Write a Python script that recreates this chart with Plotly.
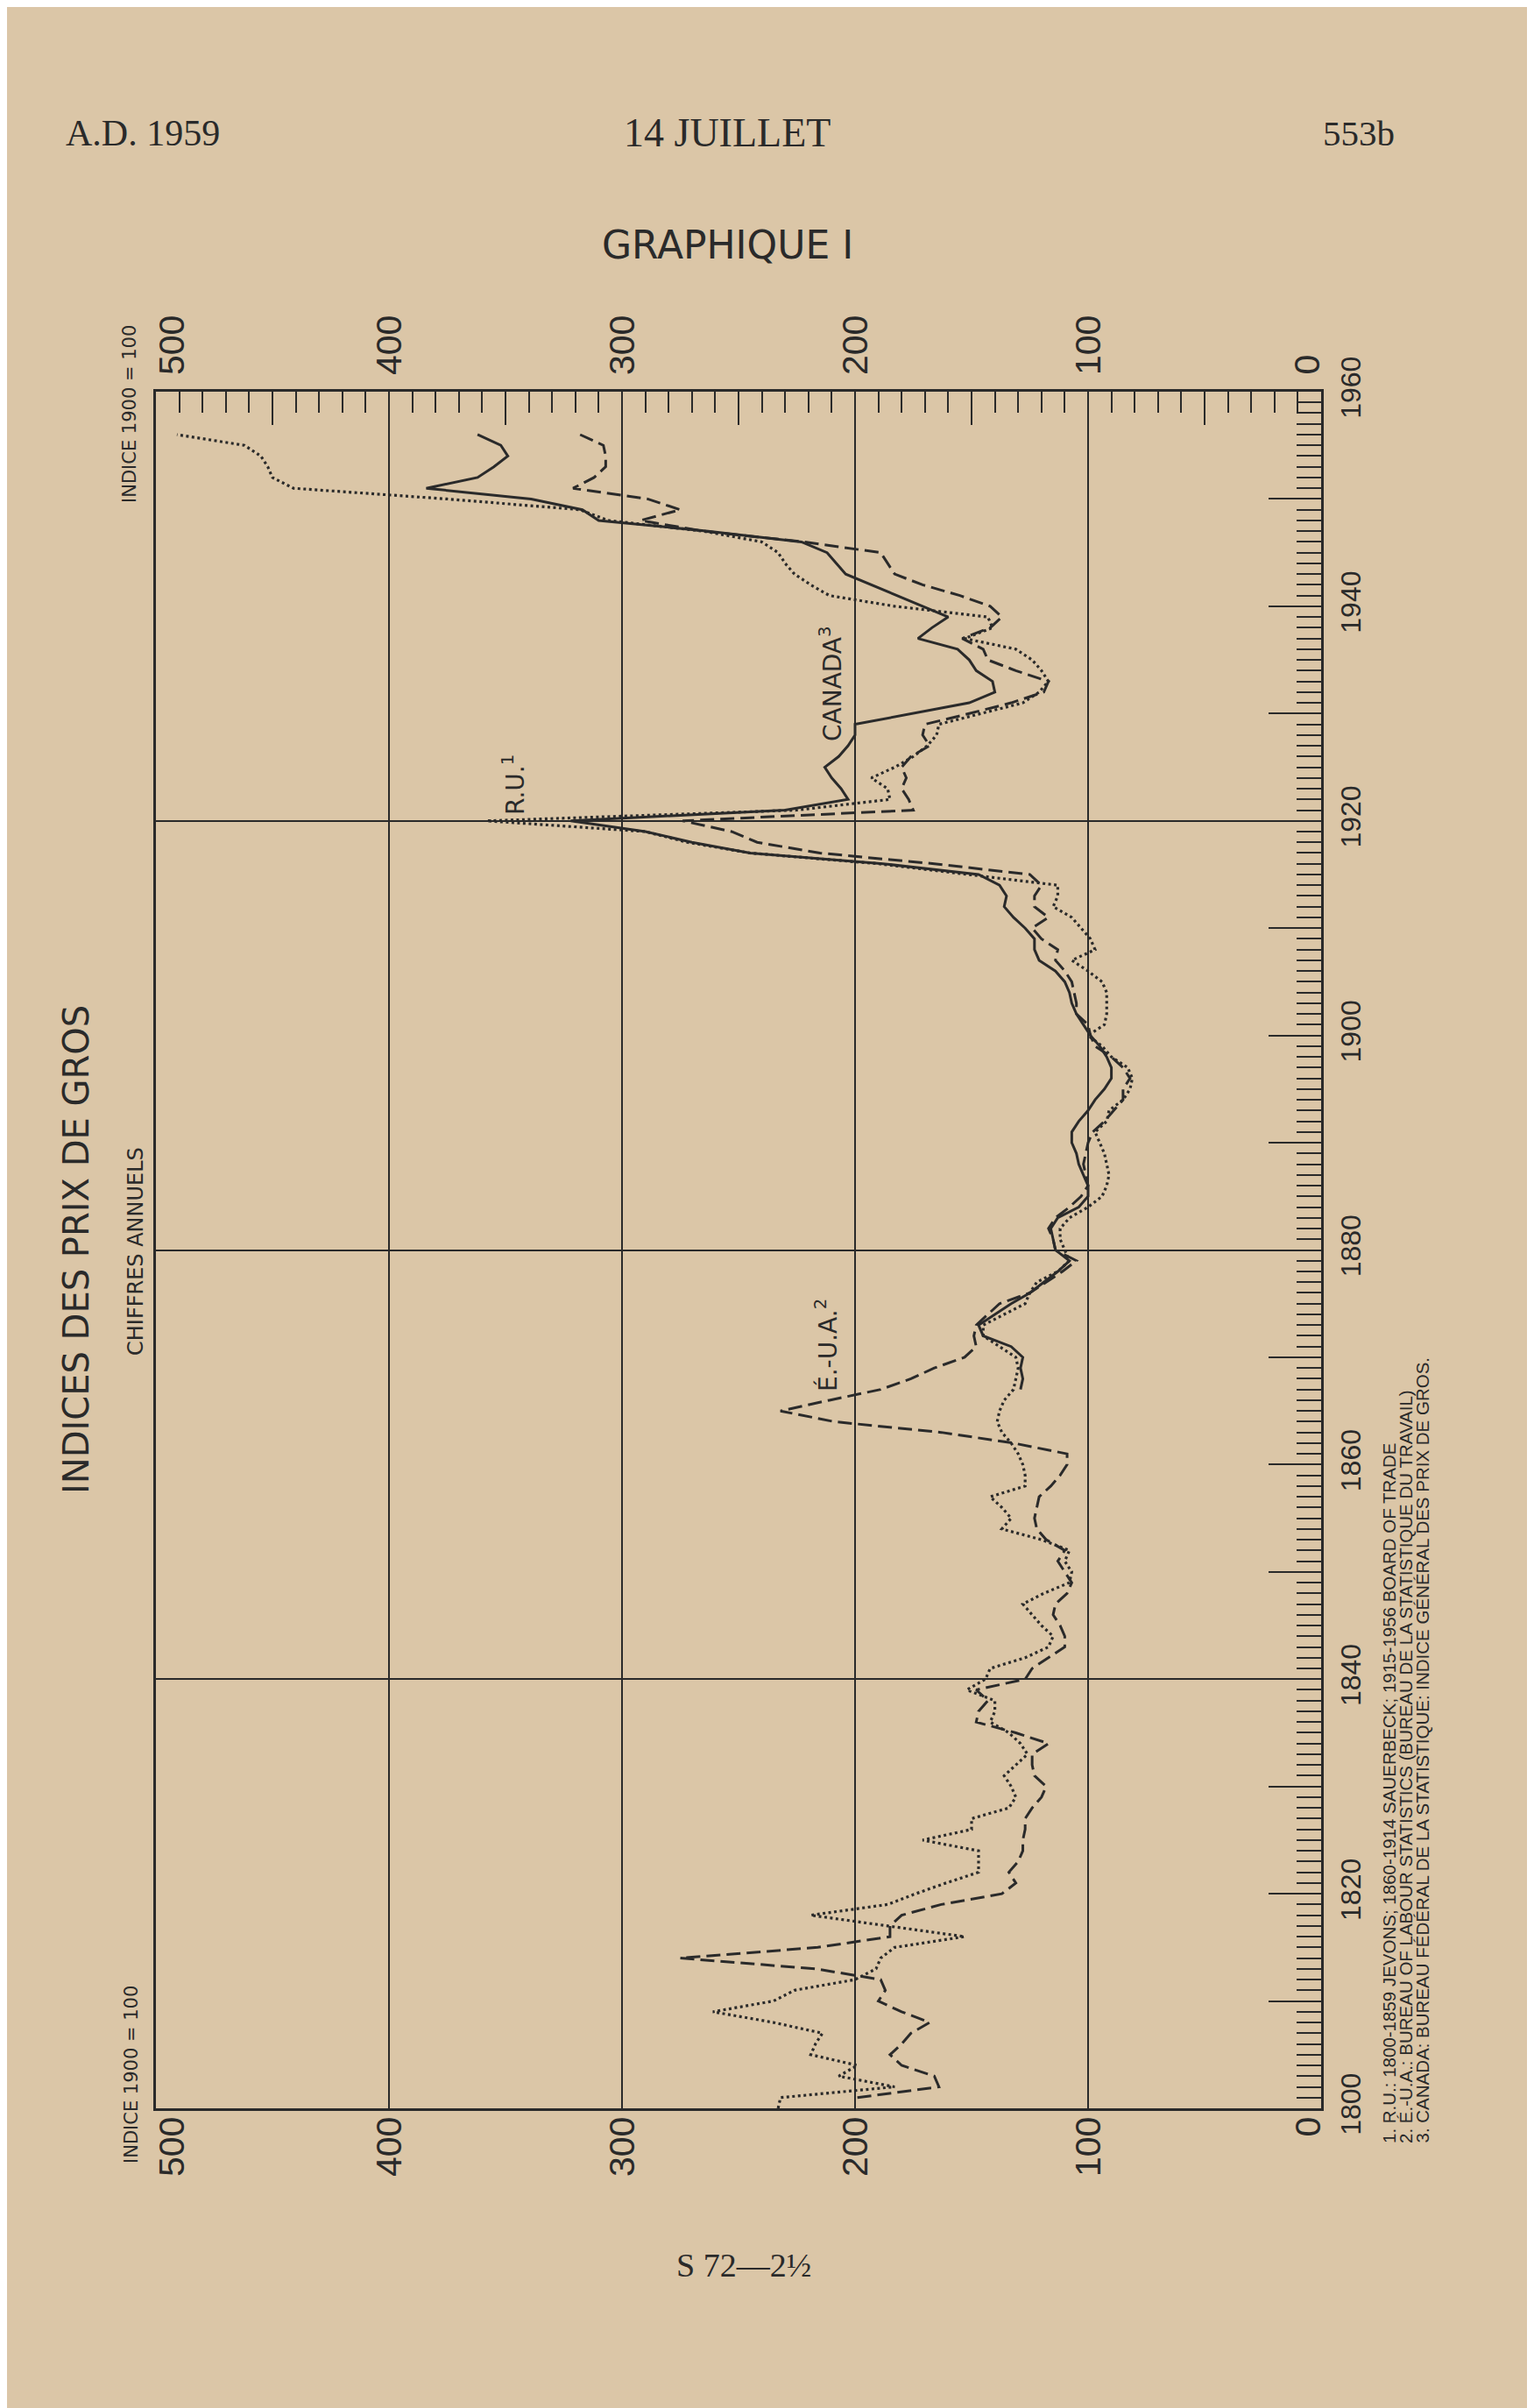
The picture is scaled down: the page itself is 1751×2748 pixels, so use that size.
import plotly.graph_objects as go

# ---------------- data (index 1900 = 100) ----------------
years_ru = list(range(1800, 1957))
ru = [233, 232, 183, 207, 199, 219, 217, 214, 235, 261,
      235, 226, 200, 191, 189, 183, 153, 186, 219, 186,
      174, 161, 147, 147, 147, 171, 150, 150, 134, 131,
      133, 136, 131, 126, 129, 134, 142, 140, 140, 152,
      144, 142, 127, 117, 115, 120, 124, 128, 119, 108,
      107, 110, 108, 120, 137, 133, 137, 142, 127, 127,
      128, 130, 133, 137, 139, 138, 136, 132, 131, 130,
      131, 138, 145, 145, 136, 127, 125, 122, 113, 108,
      110, 112, 112, 108, 100, 94, 92, 91, 92, 93,
      95, 97, 92, 91, 85, 82, 81, 83, 90, 94,
      100, 93, 92, 92, 92, 94, 100, 107, 97, 99,
      103, 107, 115, 113, 113, 152, 190, 245, 272, 290,
      358, 225, 185, 186, 193, 183, 175, 169, 165, 164,
      146, 128, 121, 117, 120, 124, 131, 153, 141, 143,
      183, 211, 219, 226, 230, 233, 240, 265, 306, 318,
      375, 441, 450, 452, 455, 462, 491]

years_eua = list(range(1801, 1957))
eua = [199, 164, 166, 180, 185, 180, 176, 168, 180,
       190, 187, 189, 217, 275, 216, 185, 185, 180, 163,
       137, 131, 134, 130, 128, 128, 127, 127, 124, 120,
       118, 123, 124, 124, 117, 131, 148, 147, 143, 148,
       127, 124, 117, 110, 110, 112, 115, 114, 109, 107,
       110, 113, 110, 118, 122, 123, 122, 121, 116, 112,
       109, 109, 132, 163, 209, 232, 211, 189, 176, 166,
       153, 148, 149, 148, 143, 138, 125, 118, 111, 105,
       114, 115, 117, 114, 108, 103, 100, 101, 102, 101,
       100, 98, 93, 89, 85, 85, 82, 85, 90, 97,
       99, 100, 105, 105, 106, 107, 110, 114, 113, 120,
       124, 117, 123, 123, 120, 125, 166, 215, 242, 253,
       274, 175, 177, 180, 178, 180, 176, 168, 171, 170,
       151, 133, 119, 117, 131, 143, 145, 154, 142, 137,
       142, 155, 171, 183, 186, 189, 222, 265, 292, 275,
       289, 321, 312, 307, 307, 308, 318]

years_can = list(range(1867, 1957))
canada = [129, 128, 129, 128, 133, 145, 147, 140, 133, 125, 119, 113, 108,
          114, 115, 116, 113, 104, 100, 100, 102, 104, 105,
          107, 107, 104, 100, 97, 93, 90, 90, 92, 95,
          99, 102, 105, 107, 108, 110, 114, 121, 123, 123,
          127, 132, 136, 135, 138, 147, 188, 245, 270, 290,
          322, 230, 203, 206, 210, 213, 207, 203, 200, 200,
          175, 151, 140, 141, 148, 151, 156, 173, 167, 160,
          171, 182, 193, 204, 208, 212, 223, 263, 310, 317,
          339, 384, 362, 355, 349, 352, 362]

value_ticks = [0, 100, 200, 300, 400, 500]
value_labels = ["0", "100", "200", "300", "400", "500"]
label_shift = [-16, 0, 0, 0, 0, 18]          # end labels are set inward
year_ticks = list(range(1800, 1961, 20))
year_labels = [str(y) for y in year_ticks]
odd_decades = list(range(1810, 1960, 20))
grid_years = [1840, 1880, 1920]
half_ticks = [50, 150, 250, 350, 450]

# ---------------- styling ----------------
W, H = 1751, 2748
L, R, T, B = 170, 1500, 439, 2398
PAPER = "#dbc6a7"
INK = "#2a2a2a"
SANS = "Liberation Sans, Arial, sans-serif"
DSANS = "DejaVu Sans, Liberation Sans, sans-serif"
SERIF = "Liberation Serif, DejaVu Serif, serif"


def px(xf):
    return (xf - L) / (R - L)


def py(yf):
    return (B - yf) / (B - T)


fig = go.Figure()
fig.add_trace(go.Scatter(x=ru, y=years_ru, mode="lines", name="R.U.",
                         line=dict(color=INK, width=3.2, dash="3px,3.5px")))
fig.add_trace(go.Scatter(x=eua, y=years_eua, mode="lines", name="É.-U.A.",
                         line=dict(color=INK, width=3, dash="16px,7px")))
fig.add_trace(go.Scatter(x=canada, y=years_can, mode="lines", name="CANADA",
                         line=dict(color=INK, width=3)))
# empty helper traces so that the overlay axes are drawn
fig.add_trace(go.Scatter(x=[None], y=[None], xaxis="x2", yaxis="y2",
                         showlegend=False, hoverinfo="skip"))
fig.add_trace(go.Scatter(x=[None], y=[None], xaxis="x3", yaxis="y3",
                         showlegend=False, hoverinfo="skip"))

fig.update_layout(
    width=W, height=H, autosize=False,
    margin=dict(l=L, r=W - R, t=T, b=H - B, pad=0),
    paper_bgcolor=PAPER, plot_bgcolor=PAPER,
    showlegend=False,
    xaxis=dict(range=[500, 0], tickvals=value_ticks, showticklabels=False,
               ticks="", showgrid=True, gridcolor=INK, gridwidth=2,
               zeroline=False, showline=True, linecolor=INK, linewidth=3, mirror=True),
    xaxis2=dict(range=[500, 0], overlaying="x", side="top", anchor="y",
                tickvals=value_ticks, showticklabels=False,
                ticks="inside", ticklen=24, tickwidth=2, tickcolor=INK,
                minor=dict(dtick=10, tick0=0, ticks="inside", ticklen=24,
                           tickwidth=2, tickcolor=INK, showgrid=False),
                showgrid=False, zeroline=False, showline=False),
    xaxis3=dict(range=[500, 0], overlaying="x", side="top", anchor="y",
                tickvals=half_ticks, ticks="inside", ticklen=38, tickwidth=2,
                tickcolor=INK, showticklabels=False, showgrid=False,
                zeroline=False, showline=False),
    yaxis=dict(range=[1800, 1960], side="right", tickvals=year_ticks,
               ticktext=year_labels, tickangle=-90, ticks="inside", ticklen=60,
               tickwidth=2, tickcolor=INK,
               minor=dict(dtick=1, tick0=1800, ticks="inside", ticklen=28,
                          tickwidth=2, tickcolor=INK, showgrid=False),
               showgrid=False, zeroline=False, showline=True, linecolor=INK,
               linewidth=3, mirror=True,
               tickfont=dict(family=SANS, size=32, color=INK),
               ticklabelstandoff=4),
    yaxis2=dict(range=[1800, 1960], overlaying="y", side="left", anchor="x",
                tickvals=grid_years, showgrid=True, gridcolor=INK, gridwidth=2,
                showticklabels=False, ticks="", zeroline=False, showline=False),
    yaxis3=dict(range=[1800, 1960], overlaying="y", side="right", anchor="x",
                tickvals=odd_decades, ticks="inside", ticklen=60, tickwidth=2,
                tickcolor=INK, showticklabels=False, showgrid=False,
                zeroline=False, showline=False),
)

ann = []
# value scale labels, top and bottom
for v, lab, sh in zip(value_ticks, value_labels, label_shift):
    ann.append(dict(text=lab, x=v, xref="x", y=py(422), yref="paper", textangle=-90,
                    xanchor="center", yanchor="bottom", xshift=sh,
                    font=dict(family=SANS, size=41, color=INK)))
    ann.append(dict(text=lab, x=v, xref="x", y=py(2406), yref="paper", textangle=-90,
                    xanchor="center", yanchor="top", xshift=sh,
                    font=dict(family=SANS, size=41, color=INK)))
# page header
ann.append(dict(text="A.D. 1959", x=px(65), y=py(144), xanchor="left", yanchor="middle",
                font=dict(family=SERIF, size=42, color=INK)))
ann.append(dict(text="14 JUILLET", x=px(822), y=py(144), xanchor="center", yanchor="middle",
                font=dict(family=SERIF, size=46, color=INK)))
ann.append(dict(text="553b", x=px(1586), y=py(144), xanchor="right", yanchor="middle",
                font=dict(family=SERIF, size=41, color=INK)))
ann.append(dict(text="GRAPHIQUE I", x=px(822), y=py(271), xanchor="center", yanchor="middle",
                font=dict(family=DSANS, size=44, color=INK)))
ann.append(dict(text="S 72—2½", x=px(841), y=py(2577), xanchor="center", yanchor="middle",
                font=dict(family=SERIF, size=38, color=INK)))
# rotated titles
ann.append(dict(text="INDICES DES PRIX DE GROS", x=px(79), y=py(1418), textangle=-90,
                xanchor="center", yanchor="middle", font=dict(family=DSANS, size=40, color=INK)))
ann.append(dict(text="CHIFFRES ANNUELS", x=px(147), y=py(1420), textangle=-90,
                xanchor="center", yanchor="middle", font=dict(family=DSANS, size=24, color=INK)))
ann.append(dict(text="INDICE 1900 = 100", x=px(140), y=py(465), textangle=-90,
                xanchor="center", yanchor="middle", font=dict(family=DSANS, size=21, color=INK)))
ann.append(dict(text="INDICE 1900 = 100", x=px(142), y=py(2360), textangle=-90,
                xanchor="center", yanchor="middle", font=dict(family=DSANS, size=21, color=INK)))
# series labels
ann.append(dict(text="R.U.<sup>1</sup>", x=px(578), y=py(888), textangle=-90,
                xanchor="center", yanchor="middle", font=dict(family=DSANS, size=28, color=INK)))
ann.append(dict(text="CANADA<sup>3</sup>", x=px(940), y=py(772), textangle=-90,
                xanchor="center", yanchor="middle", font=dict(family=DSANS, size=28, color=INK)))
ann.append(dict(text="É.-U.A.<sup>2</sup>", x=px(935), y=py(1527), textangle=-90,
                xanchor="center", yanchor="middle", font=dict(family=DSANS, size=28, color=INK)))
# footnotes
notes = ["1. R.U.: 1800-1859 JEVONS; 1860-1914 SAUERBECK; 1915-1956 BOARD OF TRADE",
         "2. É.-U.A.: BUREAU OF LABOUR STATISTICS (BUREAU DE LA STATISTIQUE DU TRAVAIL)",
         "3. CANADA: BUREAU FÉDÉRAL DE LA STATISTIQUE: INDICE GÉNÉRAL DES PRIX DE GROS."]
for t, xf in zip(notes, [1577, 1596, 1615]):
    ann.append(dict(text=t, x=px(xf), y=py(2440), textangle=-90,
                    xanchor="center", yanchor="bottom",
                    font=dict(family=SANS, size=20.5, color=INK)))

for a in ann:
    a.setdefault("xref", "paper")
    a.setdefault("yref", "paper")
    a["showarrow"] = False
fig.update_layout(annotations=ann)

fig.write_html("out.html")
